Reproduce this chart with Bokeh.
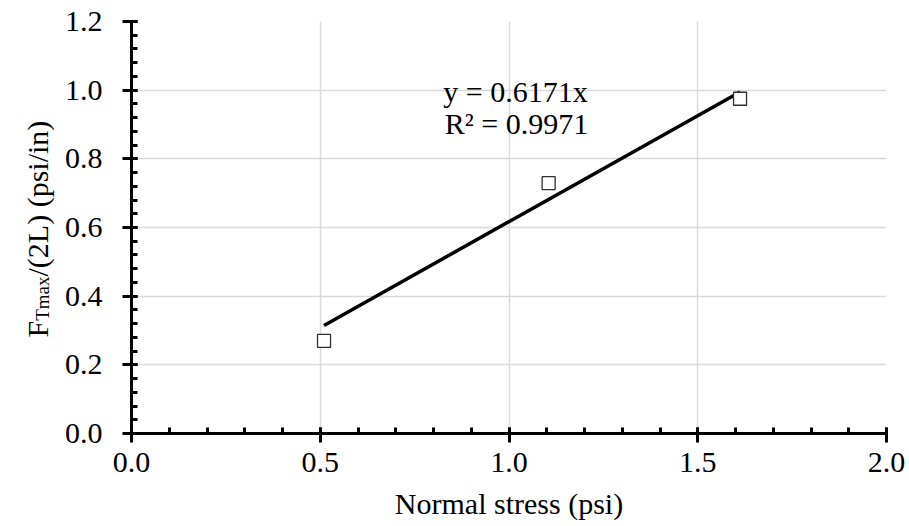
from math import pi
from bokeh.plotting import figure
from bokeh.layouts import row
from bokeh.models import Range1d, FixedTicker, Label, NumeralTickFormatter
from bokeh.embed import file_html
from bokeh.resources import INLINE

# ---- data ----
normal_stress = [0.51, 1.105, 1.612]          # psi
force_per_len = [0.27, 0.729, 0.975]          # psi/in
trend_slope = 0.6171
trend_r2 = 0.9971
x_major = [0.0, 0.5, 1.0, 1.5, 2.0]
y_major = [0.0, 0.2, 0.4, 0.6, 0.8, 1.0, 1.2]
x_minor = [round(i * 0.1, 2) for i in range(21)]
y_minor = [round(i * 0.04, 2) for i in range(31)]
x_title = "Normal stress (psi)"
y_title_parts = ["F", "Tmax", "/(2L) (psi/in)"]

FONT = "Liberation Serif"
FS = 30
SUB_FS = 19
W, H = 909, 526
LEFT_W = 60

p = figure(width=W - LEFT_W, height=H, x_range=Range1d(0, 2.0), y_range=Range1d(0, 1.2),
           output_backend="svg", toolbar_location=None, title=None,
           min_border_left=131 - LEFT_W, min_border_right=23, min_border_top=21, min_border_bottom=93)
p.outline_line_color = None
p.background_fill_color = "white"
p.border_fill_color = "white"

for ax in (p.xaxis[0], p.yaxis[0]):
    ax.axis_line_width = 3
    ax.axis_line_color = "black"
    ax.major_tick_line_width = 3
    ax.major_tick_line_color = "black"
    ax.minor_tick_line_width = 3
    ax.minor_tick_line_color = "black"
    ax.major_tick_in = 6
    ax.major_tick_out = 9
    ax.minor_tick_in = 6
    ax.minor_tick_out = 0
    ax.major_label_text_font = FONT
    ax.major_label_text_font_size = f"{FS}px"
    ax.major_label_text_color = "black"
    ax.formatter = NumeralTickFormatter(format="0.0")

p.xaxis[0].ticker = FixedTicker(ticks=x_major, minor_ticks=x_minor)
p.yaxis[0].ticker = FixedTicker(ticks=y_major, minor_ticks=y_minor)
p.xaxis[0].major_label_standoff = 10
p.yaxis[0].major_label_standoff = 20

p.xaxis[0].axis_label = x_title
p.xaxis[0].axis_label_text_font = FONT
p.xaxis[0].axis_label_text_font_size = f"{FS}px"
p.xaxis[0].axis_label_text_font_style = "normal"
p.xaxis[0].axis_label_text_color = "black"
p.xaxis[0].axis_label_standoff = 12

p.xgrid[0].ticker = FixedTicker(ticks=x_major)
p.ygrid[0].ticker = FixedTicker(ticks=y_major)
for g in (p.xgrid[0], p.ygrid[0]):
    g.grid_line_color = "#d9d9d9"
    g.grid_line_width = 1.5

# trendline (through origin) over data range
x0, x1 = min(normal_stress), max(normal_stress)
p.line([x0, x1], [trend_slope * x0, trend_slope * x1], line_color="black", line_width=3.5)

p.scatter(normal_stress, force_per_len, marker="square", size=13,
          fill_color="white", line_color="#303030", line_width=1.3)

# equation labels
p.add_layout(Label(x=0.826, y=0.995, text=f"y = {trend_slope}x", text_font=FONT,
                   text_font_size=f"{FS}px", text_baseline="alphabetic", text_color="black"))
p.add_layout(Label(x=0.83, y=0.902, text=f"R² = {trend_r2}", text_font=FONT,
                   text_font_size=f"{FS}px", text_baseline="alphabetic", text_color="black"))

# y-axis title with subscript, in a narrow side panel whose ranges equal its pixels
t = figure(frame_width=LEFT_W, frame_height=H, x_range=Range1d(0, LEFT_W), y_range=Range1d(0, H),
           output_backend="svg", toolbar_location=None, title=None,
           x_axis_location=None, y_axis_location=None,
           min_border=0, min_border_left=0, min_border_right=0, min_border_top=0, min_border_bottom=0)
t.outline_line_color = None
t.xgrid.visible = False
t.ygrid.visible = False
t.background_fill_color = "white"
t.border_fill_color = "white"

bx = 37            # baseline (px from left)
y0 = H - 316       # start of title (px from bottom)
w_F = 0.556 * FS
w_sub = 2.333 * SUB_FS
t.add_layout(Label(x=bx, y=y0, angle=pi / 2,
                   text=y_title_parts[0], text_font=FONT, text_font_size=f"{FS}px",
                   text_baseline="alphabetic", text_align="left", text_color="black"))
t.add_layout(Label(x=bx + 5, y=y0 + w_F, angle=pi / 2,
                   text=y_title_parts[1], text_font=FONT, text_font_size=f"{SUB_FS}px",
                   text_baseline="alphabetic", text_align="left", text_color="black"))
t.add_layout(Label(x=bx, y=y0 + w_F + w_sub, angle=pi / 2,
                   text=y_title_parts[2], text_font=FONT, text_font_size=f"{FS}px",
                   text_baseline="alphabetic", text_align="left", text_color="black"))

layout = row(t, p, spacing=0)
open("out.html", "w").write(file_html(layout, INLINE))
